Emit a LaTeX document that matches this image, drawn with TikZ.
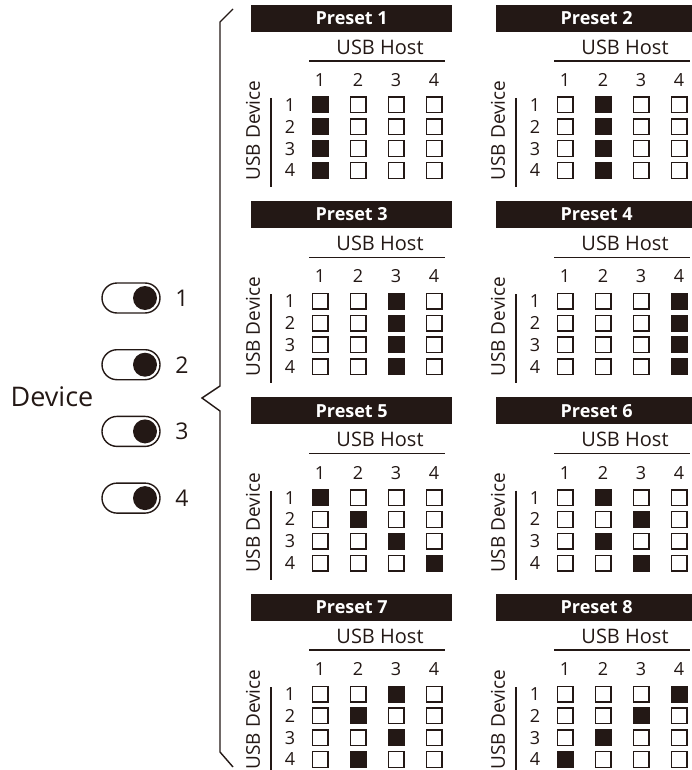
\documentclass[tikz,border=0pt]{standalone}
\usepackage{fontspec}
\setmainfont{Open Sans}
\definecolor{ink}{HTML}{231815}
\tikzset{
  titlebar/.style={fill=ink, draw=none, minimum width=201pt, minimum height=27pt, inner sep=0pt, text=white, font=\fontsize{18}{18}\bfseries\selectfont},
  lbl/.style={text=ink, inner sep=0pt, font=\fontsize{20}{20}\selectfont},
  vlbl/.style={text=ink, inner sep=0pt, font=\fontsize{19}{19}\selectfont, rotate=90},
  num/.style={text=ink, inner sep=0pt, font=\fontsize{18}{18}\selectfont},
  cellon/.style={fill=ink, draw=none, minimum size=17pt, inner sep=0pt},
  celloff/.style={draw=ink, line width=1.4pt, fill=white, minimum size=15.6pt, inner sep=0pt},
  rule/.style={draw=ink, line width=1.4pt},
  toggle/.style={draw=ink, line width=1.4pt, rounded corners=15pt, minimum width=58pt, minimum height=30pt, inner sep=0pt},
  knob/.style={circle, fill=ink, draw=none, minimum size=24pt, inner sep=0pt},
  tognum/.style={text=ink, inner sep=0pt, font=\fontsize{23}{23}\selectfont},
}
\newcommand\presetblock[5]{%
  \begin{scope}[shift={(#2,#3)}]
    \node[titlebar, anchor=north west] (#1bar) at (251,4.5) {Preset #4};
    \node[lbl] (#1host) at (380,47) {USB Host};
    \draw[rule] (309,61) -- (445,61);
    \node[vlbl] (#1dev) at (253,130.5) {USB Device};
    \draw[rule] (271,98) -- (271,187);
    \foreach \j in {1,...,4} {
      \node[num] (#1c\j) at ({320+38*(\j-1)},80) {\j};
      \node[num] (#1r\j) at (290,{105+21.8*(\j-1)}) {\j};
      \foreach \i in {1,...,4} {
        \node[celloff] (#1s\i\j) at ({320+38*(\j-1)},{105+21.8*(\i-1)}) {};
      }
    }
    \foreach \r/\c in {#5} {
      \node[cellon] (#1f\r) at ({320+38*(\c-1)},{105+21.8*(\r-1)}) {};
    }
  \end{scope}}
\begin{document}
\begin{tikzpicture}[x=1pt, y=-1pt]
  \useasboundingbox (0,0) rectangle (691,770);
  % brace
  \draw[rule] (233,9) -- (220,22) -- (220,386) -- (202,398) -- (220,411) -- (220,752) -- (233,767);
  % device label
  \node[text=ink, inner sep=0pt, font=\fontsize{27}{27}\selectfont] (device) at (52,397) {Device};
  % toggles
  \foreach \k in {1,...,4} {
    \pgfmathsetmacro\ty{298+66.7*(\k-1)}
    \node[toggle] (tog\k) at (131,\ty) {};
    \node[knob] (knob\k) at (145,\ty) {};
    \node[tognum] (tn\k) at (182,\ty) {\k};
  }
  % presets
  \presetblock{pa}{0}{0}{1}{1/1,2/1,3/1,4/1}
  \presetblock{pb}{245}{0}{2}{1/2,2/2,3/2,4/2}
  \presetblock{pc}{0}{196.3}{3}{1/3,2/3,3/3,4/3}
  \presetblock{pd}{245}{196.3}{4}{1/4,2/4,3/4,4/4}
  \presetblock{pe}{0}{392.6}{5}{1/1,2/2,3/3,4/4}
  \presetblock{pf}{245}{392.6}{6}{1/2,2/3,3/2,4/3}
  \presetblock{pg}{0}{589}{7}{1/3,2/2,3/3,4/2}
  \presetblock{ph}{245}{589}{8}{1/4,2/3,3/2,4/1}
\end{tikzpicture}
\end{document}
